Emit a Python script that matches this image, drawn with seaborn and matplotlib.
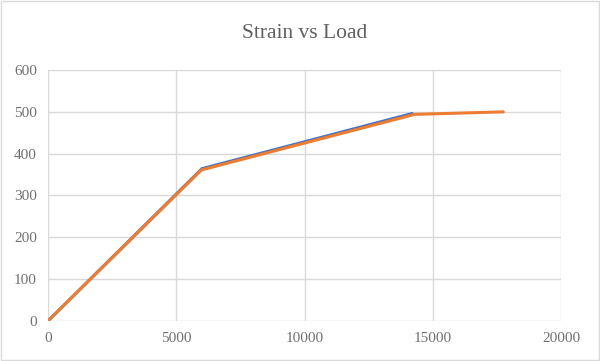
import pandas as pd
import matplotlib
matplotlib.use("Agg")
import matplotlib.pyplot as plt
import seaborn as sns

# series values
load_a = [0, 6000, 14200]
strain_a = [0, 364, 496]
load_b = [0, 5980, 14300, 17750]
strain_b = [0, 361, 494, 500]

xticks = [0, 5000, 10000, 15000, 20000]
yticks = [0, 100, 200, 300, 400, 500, 600]

sns.set_style("white")
plt.rcParams['font.family'] = ['Liberation Serif', 'DejaVu Serif']

fig = plt.figure(figsize=(6, 3.61), dpi=100)
ax = fig.add_axes([0.08, 0.111, 0.855, 0.695])

df_a = pd.DataFrame({'load': load_a, 'strain': strain_a})
df_b = pd.DataFrame({'load': load_b, 'strain': strain_b})
sns.lineplot(data=df_a, x='load', y='strain', sort=False, color='#4472C4', lw=2.2, ax=ax)
sns.lineplot(data=df_b, x='load', y='strain', sort=False, color='#ED7D31', lw=2.2, ax=ax)

ax.set_xlim(0, 20000)
ax.set_ylim(0, 600)
ax.set_xticks(xticks)
ax.set_yticks(yticks)
ax.grid(True, color='#D9D9D9', lw=1)
ax.set_axisbelow(True)
for s in ax.spines.values():
    s.set_visible(False)
ax.tick_params(length=0, labelsize=11, colors='#707070', pad=8)
ax.set_xlabel('')
ax.set_ylabel('')
ax.set_title('Strain vs Load', fontsize=15.5, color='#606060', pad=23)

# outer border
fig.patches.append(plt.Rectangle((0.002, 0.003), 0.996, 0.994, transform=fig.transFigure,
                                 fill=False, edgecolor='#D9D9D9', lw=1))

fig.savefig('out.png', dpi=100)
